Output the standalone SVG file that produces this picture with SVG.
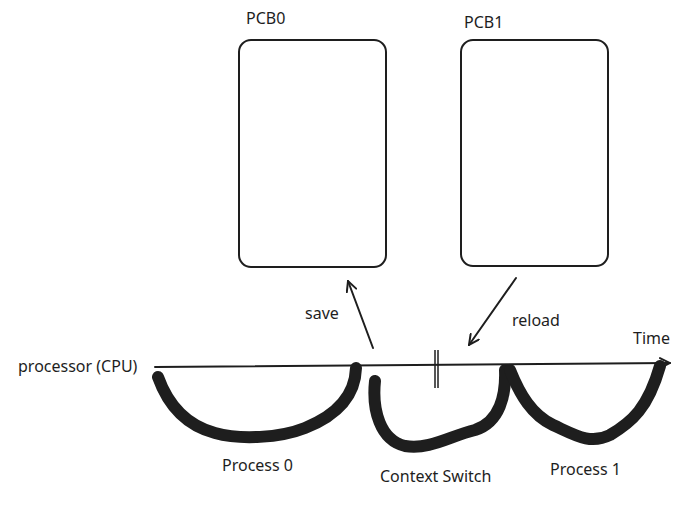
<svg xmlns="http://www.w3.org/2000/svg" width="681" height="517" viewBox="0 0 681 517">
<defs>
<style>
text{font-family:"Noto Sans","Open Sans",sans-serif;font-size:16px;fill:#1e1e1e}
.box{fill:#fff;stroke:#1e1e1e;stroke-width:2}
.arr{fill:none;stroke:#1e1e1e;stroke-width:2;stroke-linecap:round}
.thick{fill:none;stroke:#1e1e1e;stroke-width:12;stroke-linecap:round;stroke-linejoin:round}
</style>
<marker id="ah" viewBox="0 0 12 12" refX="11" refY="6" markerWidth="12" markerHeight="12" markerUnits="userSpaceOnUse" orient="auto">
<path d="M1,1 L11,6 L1,11" fill="none" stroke="#1e1e1e" stroke-width="2" stroke-linecap="round"/>
</marker>
</defs>
<rect width="681" height="517" fill="#fff"/>
<g id="pcb0">
<rect class="box" x="239" y="40" width="147" height="227" rx="12"/>
<text x="246" y="24">PCB0</text>
</g>
<g id="pcb1">
<rect class="box" x="461" y="40" width="147" height="226" rx="12"/>
<text x="464" y="28">PCB1</text>
</g>
<g id="timeline">
<line class="arr" x1="155" y1="367" x2="670" y2="363" marker-end="url(#ah)"/>
<line x1="435" y1="350" x2="435" y2="388" stroke="#1e1e1e" stroke-width="1.5"/>
<line x1="438" y1="350" x2="438" y2="388" stroke="#1e1e1e" stroke-width="1.5"/>
<text x="18" y="372">processor (CPU)</text>
<text x="633" y="344">Time</text>
</g>
<g id="process0">
<path class="thick" d="M158,377 C168,405 185,425 215,433 C240,440 280,438 305,428 C330,418 355,400 356,368"/>
<text x="222" y="471">Process 0</text>
</g>
<g id="context-switch">
<path class="thick" d="M375,381 C372,410 380,440 405,446 C430,450 450,436 475,430 C500,422 506,395 505,370"/>
<text x="380" y="482">Context Switch</text>
</g>
<g id="process1">
<path class="thick" d="M510,370 C520,395 532,415 553,425 C575,435 590,445 610,435 C632,422 648,408 660,366"/>
<text x="550" y="475">Process 1</text>
</g>
<g id="connectors">
<line class="arr" x1="373" y1="348" x2="348" y2="281" marker-end="url(#ah)"/>
<line class="arr" x1="516" y1="278" x2="469" y2="345" marker-end="url(#ah)"/>
<text x="305" y="319">save</text>
<text x="512" y="326">reload</text>
</g>
</svg>
